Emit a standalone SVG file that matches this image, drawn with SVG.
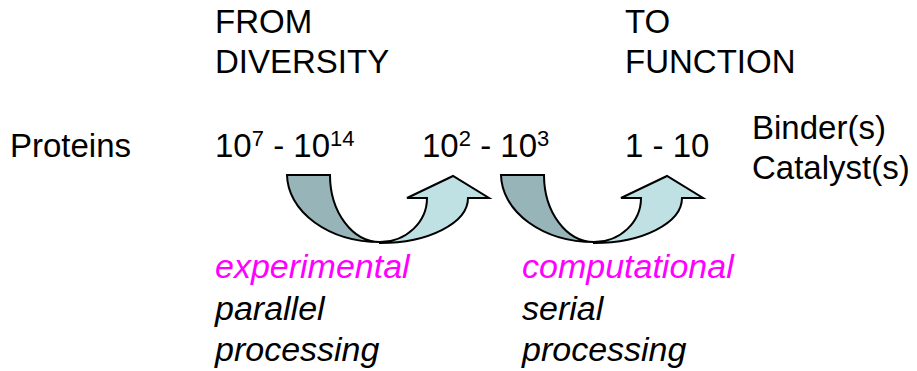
<svg xmlns="http://www.w3.org/2000/svg" width="917" height="371" viewBox="0 0 917 371">
<style>
text{font-family:"Liberation Sans",Arial,sans-serif;font-size:33px;fill:#000}
.it{font-style:italic;font-size:34px}
.mag{fill:#FF00FF}
.sup{font-size:22px}
.dark{fill:#97B5B8;stroke:#000;stroke-width:2;stroke-linejoin:miter}
.light{fill:#BFE1E4;stroke:#000;stroke-width:2;stroke-linejoin:miter}
</style>
<defs>
<g id="curved-arrow">
<path class="dark" d="M287,175 L330,175 A50,67 0 0 0 380,242 A93,68 0 0 1 287,175 Z"/>
<path class="light" d="M380,242 A47,44 0 0 0 427,198 L407,198 L453,176 L489,198 L468,198 A88,45 0 0 1 380,243 Z"/>
</g>
</defs>
<g id="connectors">
<use href="#curved-arrow"/>
<use href="#curved-arrow" transform="translate(214,0)"/>
</g>
<g id="header-from"><text x="215" y="33">FROM</text><text x="215" y="73">DIVERSITY</text></g>
<g id="header-to"><text x="625" y="33">TO</text><text x="625" y="73">FUNCTION</text></g>
<g id="proteins"><text x="10" y="157">Proteins</text></g>
<g id="count-1"><text x="215" y="157">10<tspan class="sup" dy="-11">7</tspan><tspan dy="11"> - 10</tspan><tspan class="sup" dy="-11">14</tspan></text></g>
<g id="count-2"><text x="422" y="157">10<tspan class="sup" dy="-11">2</tspan><tspan dy="11"> - 10</tspan><tspan class="sup" dy="-11">3</tspan></text></g>
<g id="count-3"><text x="625" y="157">1 - 10</text></g>
<g id="result"><text x="752" y="139">Binder(s)</text><text x="752" y="179">Catalyst(s)</text></g>
<g id="label-experimental"><text class="it mag" x="215" y="278">experimental</text><text class="it" x="215" y="320">parallel</text><text class="it" x="215" y="361">processing</text></g>
<g id="label-computational"><text class="it mag" x="522" y="278">computational</text><text class="it" x="522" y="320">serial</text><text class="it" x="522" y="361">processing</text></g>
</svg>
